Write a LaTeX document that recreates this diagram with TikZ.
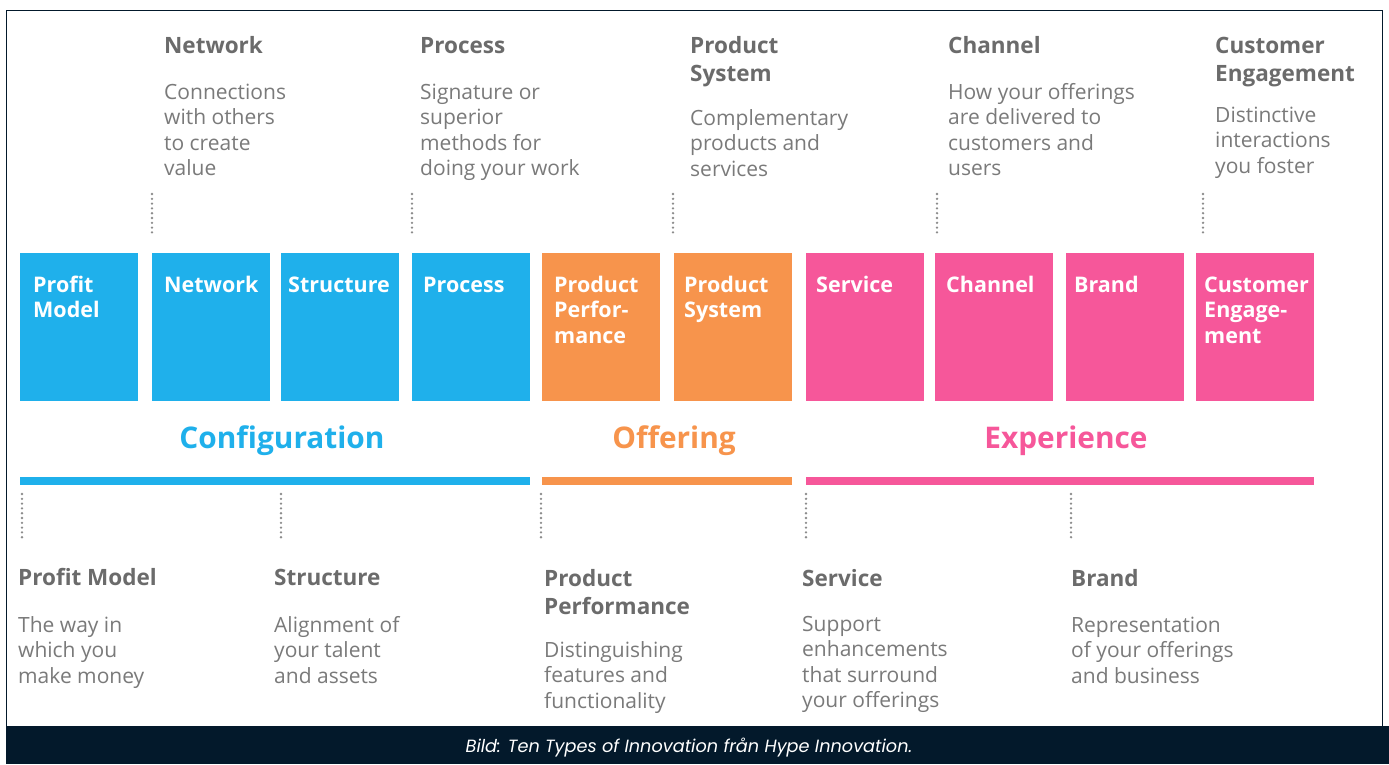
\documentclass[tikz,border=0pt]{standalone}
\usepackage{fontspec}
\setmainfont{Open Sans}
\newfontfamily\capfont{Poppins}
\definecolor{cfg}{HTML}{1FB0EB}
\definecolor{off}{HTML}{F7944C}
\definecolor{exp}{HTML}{F6579A}
\definecolor{ttlgrey}{HTML}{6B6B6B}
\definecolor{dscgrey}{HTML}{7A7A7A}
\definecolor{dotgrey}{HTML}{8C8C8C}
\definecolor{navy}{HTML}{03192B}
\tikzset{
  tbox/.style={draw=none, minimum width=118pt, minimum height=148pt, inner sep=0pt, anchor=north west},
  tlab/.style={anchor=base west, inner sep=0pt, text=white, font=\fontsize{21.5}{25.5}\selectfont\bfseries, align=left},
  ttl/.style={anchor=base west, inner sep=0pt, text=ttlgrey, font=\fontsize{22.5}{28}\selectfont\bfseries, align=left},
  dsc/.style={anchor=base west, inner sep=0pt, text=dscgrey, font=\fontsize{21}{25.5}\selectfont, align=left},
  grp/.style={anchor=base, inner sep=0pt, font=\fontsize{29.8}{32}\selectfont\bfseries},
  dotline/.style={draw=dotgrey, line width=2.6pt, line cap=round, dash pattern=on 0pt off 4.8pt},
  grpbar/.style={line width=8pt},
  frame/.style={draw=navy, line width=1.4pt},
  captxt/.style={anchor=base, inner sep=0pt, text=white, font=\capfont\itshape\fontsize{17.7}{20}\selectfont},
}
\begin{document}
\begin{tikzpicture}[x=1pt,y=-1pt]
\useasboundingbox (0,0) rectangle (1389,764);
\fill[white] (0,0) rectangle (1389,764);
\draw[frame] (6.5,10.5) rectangle (1382.5,740);
\fill[navy] (6,726) rectangle (1389,764);
\node[captxt] (cap) at (689,752) {Bild: Ten Types of Innovation från Hype Innovation.};

% boxes
\node[tbox,fill=cfg] (b1) at (20,253) {};
\node[tbox,fill=cfg] (b2) at (152,253) {};
\node[tbox,fill=cfg] (b3) at (281,253) {};
\node[tbox,fill=cfg] (b4) at (412,253) {};
\node[tbox,fill=off] (b5) at (542,253) {};
\node[tbox,fill=off] (b6) at (674,253) {};
\node[tbox,fill=exp] (b7) at (806,253) {};
\node[tbox,fill=exp] (b8) at (935,253) {};
\node[tbox,fill=exp] (b9) at (1066,253) {};
\node[tbox,fill=exp] (b10) at (1196,253) {};

% box labels (anchor = baseline of the last line)
\node[tlab] (l1) at (33,317.5) {Profit\\Model};
\node[tlab] (l2) at (164,292) {Network};
\node[tlab] (l3) at (288,292) {Structure};
\node[tlab] (l4) at (423,292) {Process};
\node[tlab] (l5) at (554,343) {Product\\Perfor-\\mance};
\node[tlab] (l6) at (684,317.5) {Product\\System};
\node[tlab] (l7) at (816,292) {Service};
\node[tlab] (l8) at (946,292) {Channel};
\node[tlab] (l9) at (1074,292) {Brand};
\node[tlab] (l10) at (1204,343) {Customer\\Engage-\\ment};

% group labels and bars
\node[grp,text=cfg] (gc) at (282,448) {Configuration};
\node[grp,text=off] (go) at (674,448) {Offering};
\node[grp,text=exp] (ge) at (1066,448) {Experience};
\draw[grpbar,cfg] (20,481) -- (530,481);
\draw[grpbar,off] (542,481) -- (792,481);
\draw[grpbar,exp] (806,481) -- (1314,481);

% top texts
\node[ttl] (t2) at (164,53) {Network};
\node[dsc] (d2) at (164,175.5) {Connections\\with others\\to create\\value};
\node[ttl] (t4) at (420,53) {Process};
\node[dsc] (d4) at (420,175.5) {Signature or\\superior\\methods for\\doing your work};
\node[ttl] (t6) at (690,81) {Product\\System};
\node[dsc] (d6) at (690,176) {Complementary\\products and\\services};
\node[ttl] (t8) at (948,53) {Channel};
\node[dsc] (d8) at (948,175.5) {How your offerings\\are delivered to\\customers and\\users};
\node[ttl] (t10) at (1215,81) {Customer\\Engagement};
\node[dsc] (d10) at (1215,173) {Distinctive\\interactions\\you foster};

% top dotted lines
\coordinate (u2a) at (152,194); \coordinate (u2b) at (152,235);
\coordinate (u4a) at (412,194); \coordinate (u4b) at (412,235);
\coordinate (u6a) at (673,194); \coordinate (u6b) at (673,235);
\coordinate (u8a) at (937,194); \coordinate (u8b) at (937,235);
\coordinate (u10a) at (1203,194); \coordinate (u10b) at (1203,235);
\draw[dotline] (u2a) -- (u2b);
\draw[dotline] (u4a) -- (u4b);
\draw[dotline] (u6a) -- (u6b);
\draw[dotline] (u8a) -- (u8b);
\draw[dotline] (u10a) -- (u10b);

% bottom dotted lines
\coordinate (v1a) at (22,494); \coordinate (v1b) at (22,540);
\coordinate (v3a) at (281,494); \coordinate (v3b) at (281,540);
\coordinate (v5a) at (541,494); \coordinate (v5b) at (541,540);
\coordinate (v7a) at (806,494); \coordinate (v7b) at (806,540);
\coordinate (v9a) at (1071,494); \coordinate (v9b) at (1071,540);
\draw[dotline] (v1a) -- (v1b);
\draw[dotline] (v3a) -- (v3b);
\draw[dotline] (v5a) -- (v5b);
\draw[dotline] (v7a) -- (v7b);
\draw[dotline] (v9a) -- (v9b);

% bottom texts
\node[ttl] (t1) at (18,585) {Profit Model};
\node[dsc] (d1) at (18,683) {The way in\\which you\\make money};
\node[ttl] (t3) at (274,585) {Structure};
\node[dsc] (d3) at (274,683) {Alignment of\\your talent\\and assets};
\node[ttl] (t5) at (544,614) {Product\\Performance};
\node[dsc] (d5) at (544,708) {Distinguishing\\features and\\functionality};
\node[ttl] (t7) at (802,586) {Service};
\node[dsc] (d7) at (802,707.5) {Support\\enhancements\\that surround\\your offerings};
\node[ttl] (t9) at (1071,586) {Brand};
\node[dsc] (d9) at (1071,683) {Representation\\of your offerings\\and business};
\end{tikzpicture}
\end{document}
